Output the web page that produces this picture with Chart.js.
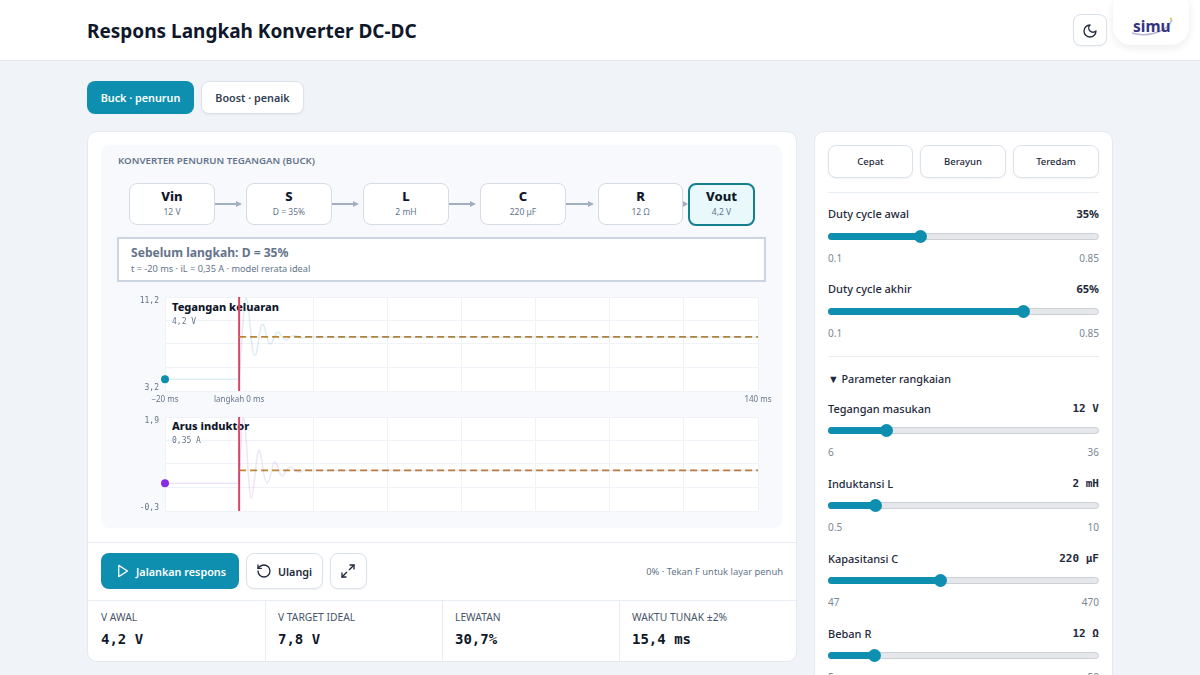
<!DOCTYPE html>
<html lang="id">
  <head>
    <meta charset="UTF-8" />
    <title>Respons Langkah Konverter DC-DC</title>
    <script src="https://cdn.jsdelivr.net/npm/chart.js@4"></script>
    <style>
      html, body { margin: 0; width: 1200px; height: 675px; overflow: hidden; background: #f0f4f9; font-family: "Noto Sans", sans-serif; color: #0f172a; }
      .box { position: absolute; box-sizing: border-box; }
      .t { position: absolute; transform: translateY(-50%); white-space: nowrap; line-height: 1.2; }
      .r { transform: translate(-100%, -50%); }
      .c { transform: translate(-50%, -50%); }
      .mono { font-family: "DejaVu Sans Mono", monospace; }
      .card { background: #fff; border: 1px solid #e4e9f0; border-radius: 10px; }
      .btn { background: #fff; border: 1px solid #dbe2ea; border-radius: 8px; box-shadow: 0 1px 2px rgba(15,23,42,.05); }
      .primary { background: #0f8fb0; border-radius: 8px; }
      .node { background: #fff; border: 1px solid #d5dce6; border-radius: 8px; }
      .nt { font-size: 13px; font-weight: 800; }
      .ns { font-size: 8.5px; color: #64748b; }
      .sl { font-size: 11px; font-weight: 500; color: #1e293b; }
      .sv { font-size: 11px; font-weight: 700; color: #1e293b; }
      .mm { font-size: 10px; color: #7b8794; }
      .track { background: #e5e7eb; border: 1px solid #cbd0d6; border-radius: 4px; height: 7px; left: 828px; width: 271px; }
      .fill { background: #0f8fb0; border-radius: 4px; height: 7px; left: 828px; }
      .thumb { background: #0f8fb0; border-radius: 50%; width: 13px; height: 13px; }
      .sh { font-size: 10.3px; color: #475569; }
      .stat { font-size: 14px; font-weight: 700; }
      .arrow { background: #a3afc0; height: 2px; }
      .head { width: 0; height: 0; border-left: 6px solid #a3afc0; border-top: 3.5px solid transparent; border-bottom: 3.5px solid transparent; }
      canvas { position: absolute; }
    </style>
  </head>
  <body>
    <!-- Header -->
    <div class="box" style="left:0;top:0;width:1200px;height:61px;background:#fff;border-bottom:1px solid #e2e8f0"></div>
    <div class="t" style="left:87px;top:31px;font-size:19px;font-weight:700">Respons Langkah Konverter DC-DC</div>
    <div class="box btn" style="left:1073px;top:14px;width:34px;height:32px">
      <svg width="16" height="16" viewBox="0 0 24 24" fill="none" stroke="#1e293b" stroke-width="2" stroke-linecap="round" stroke-linejoin="round" style="position:absolute;left:8px;top:8px"><path d="M12 3a6 6 0 0 0 9 9 9 9 0 1 1-9-9Z"/></svg>
    </div>
    <div class="box" style="left:1113px;top:-10px;width:76px;height:55px;background:#fff;border-radius:18px;box-shadow:0 3px 8px rgba(15,23,42,.08)"></div>
    <svg class="box" style="left:1128px;top:16px" width="48" height="24" viewBox="0 0 48 24" fill="none"><path d="M4 17 C16 21 38 18 44 4" stroke="#b9b5d8" stroke-width="1.6"/><circle cx="43" cy="3" r="1.3" fill="#d7cf6a"/></svg>
    <div class="t" style="left:1133px;top:26px;font-size:15.5px;font-weight:700;color:#35357f">simu</div>

    <!-- Tabs -->
    <div class="box primary" style="left:87px;top:81px;width:107px;height:33px"></div>
    <div class="t c" style="left:140.5px;top:98px;font-size:10.8px;font-weight:600;color:#fff">Buck · penurun</div>
    <div class="box btn" style="left:201px;top:81px;width:103px;height:33px"></div>
    <div class="t c" style="left:252.5px;top:98px;font-size:10.8px;font-weight:600;color:#334155">Boost · penaik</div>

    <!-- Main card -->
    <div class="box card" style="left:87px;top:131px;width:710px;height:531px"></div>
    <div class="box" style="left:101px;top:145px;width:681px;height:383px;background:#f7f9fc;border-radius:8px"></div>
    <div class="t" style="left:118px;top:161px;font-size:9.7px;font-weight:600;color:#64748b">KONVERTER PENURUN TEGANGAN (BUCK)</div>

    <div class="box node" style="left:129px;top:183px;width:86px;height:42px"></div>
    <div class="t c nt" style="left:172px;top:197px">Vin</div><div class="t c ns" style="left:172px;top:212px">12 V</div>
    <div class="box node" style="left:246px;top:183px;width:86px;height:42px"></div>
    <div class="t c nt" style="left:289px;top:197px">S</div><div class="t c ns" style="left:289px;top:212px">D = 35%</div>
    <div class="box node" style="left:363px;top:183px;width:86px;height:42px"></div>
    <div class="t c nt" style="left:406px;top:197px">L</div><div class="t c ns" style="left:406px;top:212px">2 mH</div>
    <div class="box node" style="left:480px;top:183px;width:86px;height:42px"></div>
    <div class="t c nt" style="left:523px;top:197px">C</div><div class="t c ns" style="left:523px;top:212px">220 µF</div>
    <div class="box node" style="left:598px;top:183px;width:85px;height:42px"></div>
    <div class="t c nt" style="left:640.5px;top:197px">R</div><div class="t c ns" style="left:640.5px;top:212px">12 Ω</div>
    <div class="box" style="left:688px;top:183px;width:67px;height:43px;background:#e9f8fb;border:2px solid #14808f;border-radius:8px"></div>
    <div class="t c nt" style="left:721.5px;top:197px">Vout</div><div class="t c ns" style="left:721.5px;top:212px">4,2 V</div>

    <div class="box arrow" style="left:215px;top:203px;width:23px"></div><div class="box head" style="left:236px;top:200.5px"></div>
    <div class="box arrow" style="left:332px;top:203px;width:23px"></div><div class="box head" style="left:353px;top:200.5px"></div>
    <div class="box arrow" style="left:449px;top:203px;width:23px"></div><div class="box head" style="left:470px;top:200.5px"></div>
    <div class="box arrow" style="left:566px;top:203px;width:24px"></div><div class="box head" style="left:588px;top:200.5px"></div>
    <div class="box head" style="left:683px;top:200.5px;border-left-width:5px"></div>

    <div class="box" style="left:117px;top:237px;width:649px;height:45px;background:#fff;border:2px solid #cbd5e1"></div>
    <div class="t" style="left:131px;top:253px;font-size:12.1px;font-weight:700;color:#64748b">Sebelum langkah: D = 35%</div>
    <div class="t" style="left:131px;top:269px;font-size:9.2px;color:#64748b">t = -20 ms · iL = 0,35 A · model rerata ideal</div>

    <!-- Plots: white area and titles sit under the transparent canvas -->
    <div class="box" style="left:165px;top:297px;width:593px;height:94px;background:#fff"></div>
    <div class="box" style="left:165px;top:417px;width:593px;height:94px;background:#fff"></div>
    <div class="t" style="left:172px;top:307px;font-size:11px;font-weight:800">Tegangan keluaran</div>
    <div class="t" style="left:172px;top:426px;font-size:11px;font-weight:800">Arus induktor</div>
    <canvas id="voltageChart" width="681" height="120" style="left:101px;top:290px"></canvas>
    <canvas id="currentChart" width="681" height="110" style="left:101px;top:410px"></canvas>
    <div class="t mono" style="left:172px;top:322px;font-size:8px;color:#64748b;background:#fff">4,2 V</div>
    <div class="t mono" style="left:172px;top:441px;font-size:8px;color:#64748b;background:#fff">0,35 A</div>

    <!-- Controls -->
    <div class="box" style="left:88px;top:542px;width:708px;height:1px;background:#e8edf3"></div>
    <div class="box primary" style="left:101px;top:553px;width:138px;height:36px"></div>
    <svg class="box" style="left:115px;top:563px" width="15" height="16" viewBox="0 0 24 24" fill="none" stroke="#fff" stroke-width="2" stroke-linejoin="round"><path d="M6 3l14 9-14 9z"/></svg>
    <div class="t" style="left:136px;top:571.5px;font-size:10.8px;font-weight:600;color:#fff">Jalankan respons</div>
    <div class="box btn" style="left:246px;top:553px;width:77px;height:36px"></div>
    <svg class="box" style="left:256px;top:563px" width="16" height="16" viewBox="0 0 24 24" fill="none" stroke="#1e293b" stroke-width="2" stroke-linecap="round" stroke-linejoin="round"><path d="M3 12a9 9 0 1 0 9-9 9.75 9.75 0 0 0-6.74 2.74L3 8"/><path d="M3 3v5h5"/></svg>
    <div class="t" style="left:278px;top:571.5px;font-size:10.8px;font-weight:600;color:#1e293b">Ulangi</div>
    <div class="box btn" style="left:330px;top:553px;width:37px;height:36px"></div>
    <svg class="box" style="left:340px;top:563px" width="16" height="16" viewBox="0 0 24 24" fill="none" stroke="#1e293b" stroke-width="2" stroke-linecap="round" stroke-linejoin="round"><path d="M15 3h6v6"/><path d="M21 3l-7 7"/><path d="M9 21H3v-6"/><path d="M3 21l7-7"/></svg>
    <div class="t r" style="left:783px;top:572px;font-size:9.4px;color:#64748b">0% · Tekan F untuk layar penuh</div>

    <!-- Stats -->
    <div class="box" style="left:88px;top:600px;width:708px;height:1px;background:#e8edf3"></div>
    <div class="box" style="left:265px;top:600px;width:1px;height:61px;background:#e8edf3"></div>
    <div class="box" style="left:442px;top:600px;width:1px;height:61px;background:#e8edf3"></div>
    <div class="box" style="left:619px;top:600px;width:1px;height:61px;background:#e8edf3"></div>
    <div class="t sh" style="left:101px;top:617px">V AWAL</div><div class="t mono stat" style="left:101px;top:639px">4,2 V</div>
    <div class="t sh" style="left:278px;top:617px">V TARGET IDEAL</div><div class="t mono stat" style="left:278px;top:639px">7,8 V</div>
    <div class="t sh" style="left:455px;top:617px">LEWATAN</div><div class="t mono stat" style="left:455px;top:639px">30,7%</div>
    <div class="t sh" style="left:632px;top:617px">WAKTU TUNAK ±2%</div><div class="t mono stat" style="left:632px;top:639px">15,4 ms</div>

    <!-- Right panel -->
    <div class="box card" style="left:814px;top:131px;width:299px;height:570px"></div>
    <div class="box btn" style="left:828px;top:145px;width:85px;height:33px"></div>
    <div class="t c" style="left:870.5px;top:162px;font-size:9.5px;font-weight:500;color:#1e293b">Cepat</div>
    <div class="box btn" style="left:920px;top:145px;width:86px;height:33px"></div>
    <div class="t c" style="left:963px;top:162px;font-size:9.5px;font-weight:500;color:#1e293b">Berayun</div>
    <div class="box btn" style="left:1013px;top:145px;width:86px;height:33px"></div>
    <div class="t c" style="left:1056px;top:162px;font-size:9.5px;font-weight:500;color:#1e293b">Teredam</div>
    <div class="box" style="left:828px;top:192px;width:271px;height:1px;background:#e8edf3"></div>

    <div class="t sl" style="left:828px;top:214px">Duty cycle awal</div><div class="t r sv" style="left:1099px;top:214px">35%</div>
    <div class="box track" style="top:232.5px"></div><div class="box fill" style="top:232.5px;width:92px"></div><div class="box thumb" style="left:913.5px;top:229.5px"></div>
    <div class="t mm" style="left:828px;top:258px">0.1</div><div class="t r mm" style="left:1099px;top:258px">0.85</div>

    <div class="t sl" style="left:828px;top:289px">Duty cycle akhir</div><div class="t r sv" style="left:1099px;top:289px">65%</div>
    <div class="box track" style="top:307.5px"></div><div class="box fill" style="top:307.5px;width:195px"></div><div class="box thumb" style="left:1016.5px;top:304.5px"></div>
    <div class="t mm" style="left:828px;top:333px">0.1</div><div class="t r mm" style="left:1099px;top:333px">0.85</div>

    <div class="box" style="left:828px;top:356px;width:271px;height:1px;background:#e8edf3"></div>
    <div class="t sl" style="left:828px;top:379px;font-size:10.8px">▼ Parameter rangkaian</div>

    <div class="t sl" style="left:828px;top:409px">Tegangan masukan</div><div class="t r sv mono" style="left:1099px;top:409px">12 V</div>
    <div class="box track" style="top:426.5px"></div><div class="box fill" style="top:426.5px;width:58px"></div><div class="box thumb" style="left:879.5px;top:423.5px"></div>
    <div class="t mm" style="left:828px;top:452px">6</div><div class="t r mm" style="left:1099px;top:452px">36</div>

    <div class="t sl" style="left:828px;top:484px">Induktansi L</div><div class="t r sv mono" style="left:1099px;top:484px">2 mH</div>
    <div class="box track" style="top:501.5px"></div><div class="box fill" style="top:501.5px;width:47px"></div><div class="box thumb" style="left:868.5px;top:498.5px"></div>
    <div class="t mm" style="left:828px;top:527px">0.5</div><div class="t r mm" style="left:1099px;top:527px">10</div>

    <div class="t sl" style="left:828px;top:559px">Kapasitansi C</div><div class="t r sv mono" style="left:1099px;top:559px">220 µF</div>
    <div class="box track" style="top:576.5px"></div><div class="box fill" style="top:576.5px;width:112px"></div><div class="box thumb" style="left:933.5px;top:573.5px"></div>
    <div class="t mm" style="left:828px;top:602px">47</div><div class="t r mm" style="left:1099px;top:602px">470</div>

    <div class="t sl" style="left:828px;top:634px">Beban R</div><div class="t r sv mono" style="left:1099px;top:634px">12 Ω</div>
    <div class="box track" style="top:651.5px"></div><div class="box fill" style="top:651.5px;width:46px"></div><div class="box thumb" style="left:867.5px;top:648.5px"></div>
    <div class="t mm" style="left:828px;top:677px">5</div><div class="t r mm" style="left:1099px;top:677px">50</div>

    <script>
      // time in ms, same for the step marker in both charts
      const xGrid = [-20, 0, 20, 40, 60, 80, 100, 120, 140];
      const xLabels = { "-20": "−20 ms", 0: "langkah 0 ms", 140: "140 ms" };

      // output voltage
      const voltageTime = [-20, 0, 0.5, 1, 1.5, 2, 2.5, 3, 3.5, 4, 4.5, 5, 5.5, 6, 6.5, 7, 7.5, 8, 8.5, 9, 9.5, 10, 10.5, 11, 11.5, 12, 12.7, 13.5, 14.5, 15, 16, 17, 18, 19, 21, 140];
      const voltageValues = [4.2, 4.2, 6.4, 9.0, 10.7, 11.1, 10.2, 8.6, 7.0, 6.25, 6.3, 7.0, 8.1, 8.8, 8.85, 8.4, 7.8, 7.3, 7.2, 7.4, 7.8, 8.1, 8.2, 8.1, 7.85, 7.65, 7.55, 7.7, 7.9, 7.93, 7.85, 7.72, 7.76, 7.83, 7.8, 7.8];
      const voltageTarget = 7.8;
      const voltageStart = 4.2;
      const voltageTicks = [3.2, 5.2, 7.2, 9.2, 11.2];
      const voltageEnds = ["3,2", "11,2"];

      // inductor current
      const currentTime = [-20, 0, 0.4, 0.8, 1.1, 1.5, 2, 2.5, 3.2, 3.8, 4.4, 5, 5.4, 6, 6.6, 7.6, 8.4, 9, 9.5, 10.2, 11, 11.6, 12.4, 13.2, 13.8, 14.6, 16, 17, 18, 20, 140];
      const currentValues = [0.35, 0.35, 1.1, 1.7, 1.88, 1.75, 1.25, 0.55, 0.0, 0.2, 0.65, 1.05, 1.13, 0.95, 0.6, 0.355, 0.5, 0.75, 0.85, 0.78, 0.58, 0.52, 0.6, 0.7, 0.73, 0.68, 0.61, 0.63, 0.67, 0.65, 0.65];
      const currentTarget = 0.65;
      const currentStart = 0.35;
      const currentTicks = [-0.3, 0.25, 0.8, 1.35, 1.9];
      const currentEnds = ["-0,3", "1,9"];

      const gridColor = "#eff2f7";
      const stepColor = "#d8476b";
      const targetColor = "#c08532";

      // the two end labels of the y axis sit just inside the plot height
      const yEndLabels = {
        id: "yEndLabels",
        afterDraw(chart, args, opts) {
          const { ctx, scales, chartArea } = chart;
          ctx.save();
          ctx.font = '8px "DejaVu Sans Mono", monospace';
          ctx.fillStyle = "#64748b";
          ctx.textAlign = "right";
          ctx.textBaseline = "middle";
          ctx.fillText(opts.labels[0], chartArea.left - 6, scales.y.getPixelForValue(scales.y.min) - 3);
          ctx.fillText(opts.labels[1], chartArea.left - 6, scales.y.getPixelForValue(scales.y.max) + 4);
          ctx.restore();
        },
      };

      function makeChart(id, time, values, target, start, ticks, ends, lineColor, dotColor, showX) {
        const yMin = ticks[0];
        const yMax = ticks[ticks.length - 1];
        return new Chart(document.getElementById(id), {
          type: "line",
          data: {
            datasets: [
              {
                data: time.map((t, i) => ({ x: t, y: values[i] })),
                borderColor: lineColor,
                borderWidth: 1.5,
                cubicInterpolationMode: "monotone",
                pointRadius: 0,
              },
              {
                data: [{ x: 0, y: target }, { x: xGrid[xGrid.length - 1], y: target }],
                borderColor: targetColor,
                borderWidth: 1.8,
                borderDash: [7, 4],
                pointRadius: 0,
              },
              {
                data: [{ x: 0, y: yMin }, { x: 0, y: yMax }],
                borderColor: stepColor,
                borderWidth: 2,
                pointRadius: 0,
                clip: false,
              },
              {
                data: [{ x: xGrid[0], y: start }],
                pointRadius: 4,
                pointBackgroundColor: dotColor,
                pointBorderWidth: 0,
                showLine: false,
                clip: false,
              },
            ],
          },
          options: {
            responsive: false,
            animation: false,
            layout: { padding: { top: 7, right: 24, left: 0, bottom: 0 } },
            plugins: {
              legend: { display: false },
              tooltip: { enabled: false },
              yEndLabels: { labels: ends },
            },
            scales: {
              x: {
                type: "linear",
                min: xGrid[0],
                max: xGrid[xGrid.length - 1],
                afterBuildTicks: (s) => { s.ticks = xGrid.map((v) => ({ value: v })); },
                afterFit: (s) => { s.height = showX ? 19 : 9; },
                grid: { color: gridColor, drawTicks: false },
                border: { color: gridColor },
                ticks: {
                  display: showX,
                  autoSkip: false,
                  maxRotation: 0,
                  padding: 4,
                  color: "#64748b",
                  font: { family: "Noto Sans", size: 8 },
                  callback: (v) => xLabels[v] || "",
                },
              },
              y: {
                min: yMin,
                max: yMax,
                afterBuildTicks: (s) => { s.ticks = ticks.map((v) => ({ value: v })); },
                afterFit: (s) => { s.width = 64; },
                grid: { color: gridColor, drawTicks: false },
                border: { color: gridColor },
                ticks: { display: false },
              },
            },
          },
          plugins: [yEndLabels],
        });
      }

      makeChart("voltageChart", voltageTime, voltageValues, voltageTarget, voltageStart, voltageTicks, voltageEnds, "rgba(15,130,180,0.14)", "#0f8fb0", true);
      makeChart("currentChart", currentTime, currentValues, currentTarget, currentStart, currentTicks, currentEnds, "rgba(110,60,190,0.13)", "#8b2be2", false);
    </script>
  </body>
</html>
